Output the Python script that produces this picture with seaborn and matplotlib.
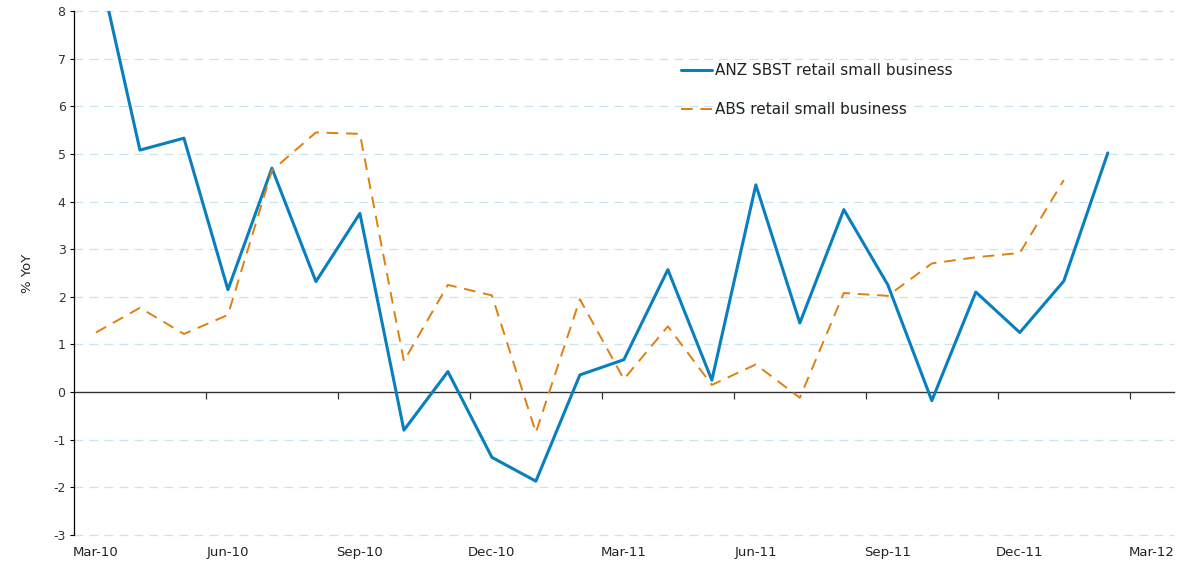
import numpy as np
import pandas as pd
import matplotlib
matplotlib.use('Agg')
import matplotlib.pyplot as plt
import seaborn as sns

# datos (variacion % anual), mensual desde Mar-10
meses = ['Mar-10', 'Apr-10', 'May-10', 'Jun-10', 'Jul-10', 'Aug-10', 'Sep-10', 'Oct-10',
         'Nov-10', 'Dec-10', 'Jan-11', 'Feb-11', 'Mar-11', 'Apr-11', 'May-11', 'Jun-11',
         'Jul-11', 'Aug-11', 'Sep-11', 'Oct-11', 'Nov-11', 'Dec-11', 'Jan-12', 'Feb-12']
anz_sbst = [9.2, 5.08, 5.33, 2.15, 4.70, 2.32, 3.75, -0.80, 0.43, -1.37, -1.87, 0.36,
            0.68, 2.57, 0.25, 4.35, 1.45, 3.83, 2.25, -0.18, 2.10, 1.25, 2.33, 5.02]
abs_retail = [1.25, 1.77, 1.22, 1.62, 4.65, 5.45, 5.42, 0.65, 2.25, 2.03, -0.85, 1.95,
              0.27, 1.38, 0.15, 0.58, -0.12, 2.08, 2.02, 2.70, 2.83, 2.92, 4.45, np.nan]
etiquetas_x = ['Mar-10', 'Jun-10', 'Sep-10', 'Dec-10', 'Mar-11', 'Jun-11', 'Sep-11',
               'Dec-11', 'Mar-12']

nombre_anz = 'ANZ SBST retail small business'
nombre_abs = 'ABS retail small business'

df = pd.DataFrame({'idx': np.arange(len(meses)), 'mes': meses,
                   'anz': anz_sbst, 'abs': abs_retail})

sns.set_style('white')
plt.rcParams['font.family'] = ['DejaVu Sans']
plt.rcParams['axes.unicode_minus'] = False

fig = plt.figure(figsize=(11.89, 5.66), dpi=100)
ax = fig.add_axes([0.0622, 0.0548, 0.925, 0.9258])

# rejilla horizontal punteada celeste
for v in range(-3, 9):
    if v != 0:
        ax.axhline(v, color='#c8e4ee', linewidth=0.9, linestyle=(0, (7, 5)),
                   zorder=0, clip_on=False)

sns.lineplot(data=df, x='idx', y='anz', color='#0a7fbf', linewidth=2.2,
             label=nombre_anz, ax=ax)
sns.lineplot(data=df.dropna(), x='idx', y='abs', color='#e07f10', linewidth=1.4,
             linestyle=(0, (6, 4)), label=nombre_abs, ax=ax)

ax.set_xlim(-0.5, 24.5)
ax.set_ylim(-3, 8)
ax.set_yticks(range(-3, 9))
ax.tick_params(axis='y', direction='out', length=3, width=0.8, color='black',
               labelsize=9, labelcolor='#333333', left=True, pad=3)

# etiquetas de fecha en la parte inferior
ax.set_xticks(np.arange(0, 25, 3))
ax.set_xticklabels(etiquetas_x)
ax.tick_params(axis='x', length=0, labelsize=9.5, labelcolor='#222222', pad=8)

for lado in ['top', 'right', 'bottom']:
    ax.spines[lado].set_visible(False)
ax.spines['left'].set_color('black')
ax.spines['left'].set_linewidth(0.9)

# eje en cero con marcas entre trimestres
eje0 = ax.secondary_xaxis(3 / 11)
eje0.set_xticks(np.arange(2.5, 25, 3))
eje0.set_xticklabels([])
eje0.tick_params(direction='out', length=5, width=0.9, color='#333333')
eje0.spines['bottom'].set_color('#333333')
eje0.spines['bottom'].set_linewidth(1.0)

ax.set_xlabel('')
ax.set_ylabel('% YoY', fontsize=9.5, color='#222222', labelpad=14)

ley = ax.legend(loc='upper left', bbox_to_anchor=(0.552, 0.90), frameon=False,
                fontsize=11, handlelength=2.0, handletextpad=0.25,
                labelspacing=1.55, borderaxespad=0, borderpad=0)
for t in ley.get_texts():
    t.set_color('#222222')

fig.savefig('out.png', dpi=100)
